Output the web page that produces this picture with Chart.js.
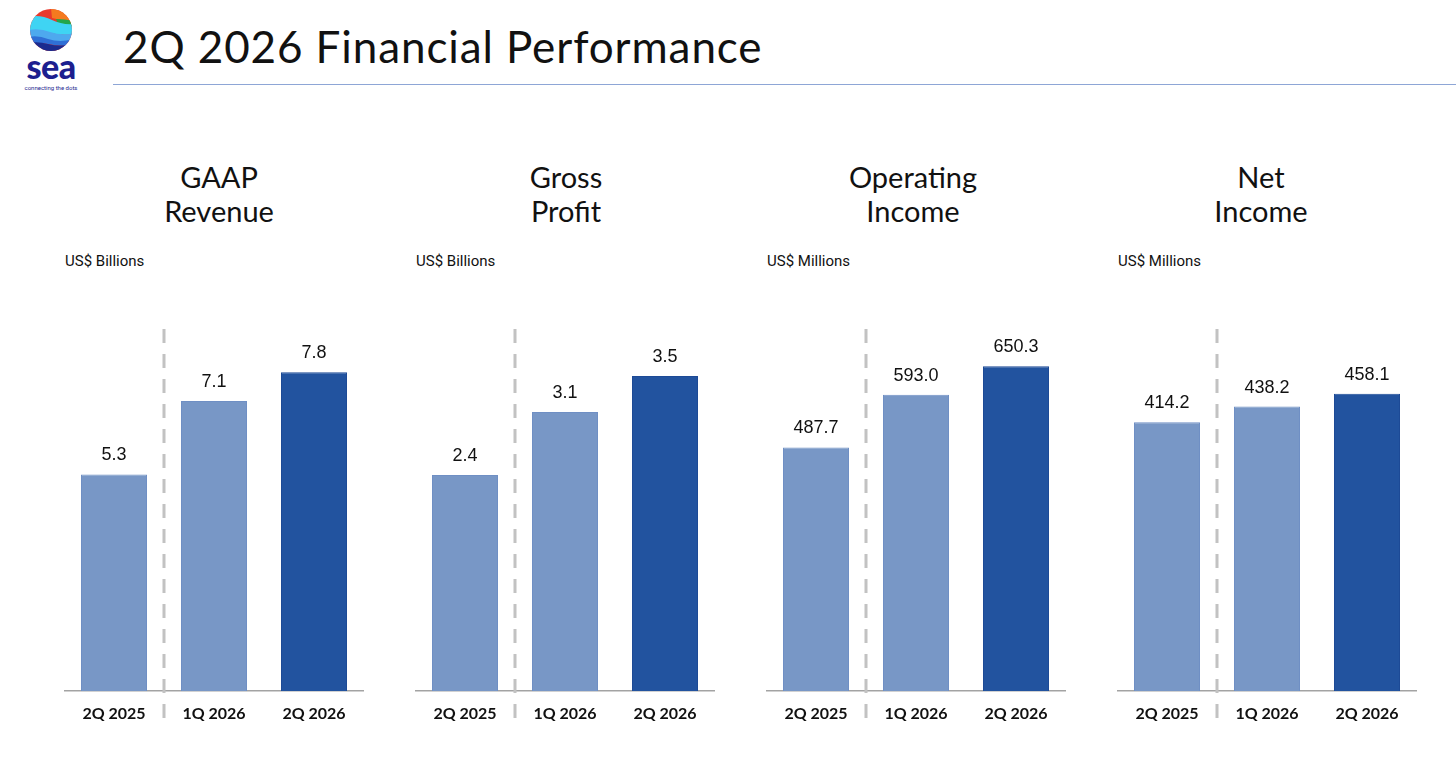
<!DOCTYPE html>
<html>
<head>
<meta charset="utf-8">
<script src="https://cdn.jsdelivr.net/npm/chart.js@4.4.1/dist/chart.umd.min.js"></script>
<style>
  html, body { margin: 0; padding: 0; background: #ffffff; }
  body { width: 1456px; height: 769px; position: relative; overflow: hidden; font-family: "Lato", "Open Sans", sans-serif; color: #111; }
  .title { position: absolute; left: 123px; top: 21px; font-size: 44px; line-height: 50px; letter-spacing: 0.9px; font-family: "Lato", sans-serif; color: #111; white-space: nowrap; }
  .rule { position: absolute; left: 113px; top: 84px; width: 1343px; height: 0; border-top: 1.5px solid #8ea6d6; }
  .ptitle { position: absolute; width: 300px; text-align: center; font-size: 29px; line-height: 34px; top: 160px; color: #111; }
  .unit { position: absolute; font-size: 15px; line-height: 16px; top: 253px; color: #111; font-family: "Roboto", sans-serif; }
  .cw { position: absolute; top: 300px; width: 300px; height: 430px; }
  .logo-sea { position: absolute; left: 18px; top: 49px; width: 66px; text-align: center; font-size: 34px; line-height: 34px; font-weight: 900; color: #1c1f8f; font-family: "Lato", sans-serif; letter-spacing: -0.5px; }
  .logo-tag { position: absolute; left: 10px; top: 84px; width: 82px; text-align: center; font-size: 6px; line-height: 7px; color: #1c1f8f; font-family: "Roboto", sans-serif; }
</style>
</head>
<body>
<svg style="position:absolute;left:0;top:0" width="110" height="60" viewBox="0 0 110 60">
  <defs><clipPath id="c"><circle cx="51" cy="30" r="21"/></clipPath></defs>
  <g clip-path="url(#c)">
    <rect x="28" y="7" width="46" height="46" fill="#e8392c"/>
    <path d="M51 8 Q62 10 74 16 L74 24 Q62 20 52 18 Z" fill="#f47a1f"/>
    <path d="M56 19 Q66 19 74 21 L74 27 Q66 25 58 24 Z" fill="#23a64a"/>
    <path d="M28 17 Q40 14 52 20 Q62 25 74 24 L74 34 Q62 36 50 33 Q40 30 28 31 Z" fill="#3fd4f3"/>
    <path d="M28 30 Q40 28 50 32 Q62 36 74 33 L74 40 Q60 43 48 40 Q38 37 28 38 Z" fill="#4ea9ee"/>
    <path d="M28 37 Q38 35 48 39 Q60 43 74 39 L74 45 Q60 47 48 44 Q38 42 28 44 Z" fill="#2f6fd6"/>
    <path d="M28 43 Q38 41 48 44 Q60 47 74 44 L74 53 L28 53 Z" fill="#1b2b8f"/>
  </g>
</svg>
<div class="logo-sea">sea</div>
<div class="logo-tag">connecting the dots</div>
<div class="title">2Q 2026 Financial Performance</div>
<div class="rule"></div>

<div class="ptitle" style="left:69px">GAAP<br>Revenue</div>
<div class="ptitle" style="left:416px">Gross<br>Profit</div>
<div class="ptitle" style="left:763px">Operating<br>Income</div>
<div class="ptitle" style="left:1111px">Net<br>Income</div>

<div class="unit" style="left:65px">US$ Billions</div>
<div class="unit" style="left:416px">US$ Billions</div>
<div class="unit" style="left:767px">US$ Millions</div>
<div class="unit" style="left:1118px">US$ Millions</div>

<div class="cw" style="left:64px"><canvas id="c1"></canvas></div>
<div class="cw" style="left:415px"><canvas id="c2"></canvas></div>
<div class="cw" style="left:766px"><canvas id="c3"></canvas></div>
<div class="cw" style="left:1117px"><canvas id="c4"></canvas></div>

<script>
// ---- data ----
const categories = ["2Q 2025", "1Q 2026", "2Q 2026"];
const gaapRevenue = [5.3, 7.1, 7.8];           // US$ billions
const grossProfit = [2.4, 3.1, 3.5];           // US$ billions
const operatingIncome = [487.7, 593.0, 650.3]; // US$ millions
const netIncome = [414.2, 438.2, 458.1];       // US$ millions
const axisMax = [9.57, 4.344, 782.8, 602.5];   // per-panel y-axis ranges

const lightBlue = "#7897c6";
const darkBlue = "#22539f";

const valueLabels = {
  id: "valueLabels",
  afterDatasetsDraw(chart) {
    const ctx = chart.ctx;
    const meta = chart.getDatasetMeta(0);
    const ds = chart.data.datasets[0];
    ctx.save();
    ctx.font = '18px "Liberation Sans", Arial, sans-serif';
    ctx.fillStyle = "#111";
    ctx.textAlign = "center";
    ctx.textBaseline = "bottom";
    meta.data.forEach((bar, i) => {
      ctx.fillText(ds.data[i].toFixed(1), bar.x, bar.y - 10);
    });
    ctx.restore();
  }
};

const divider = {
  id: "divider",
  beforeDatasetsDraw(chart) {
    const ctx = chart.ctx;
    const xs = chart.scales.x;
    const x = (xs.getPixelForValue(0) + xs.getPixelForValue(1)) / 2;
    const top = chart.chartArea.top + 29;
    const bottom = chart.chartArea.bottom + 34;
    ctx.save();
    ctx.strokeStyle = "#c2c2c2";
    ctx.lineWidth = 3;
    ctx.setLineDash([14, 11]);
    ctx.beginPath();
    ctx.moveTo(x, top);
    ctx.lineTo(x, bottom);
    ctx.stroke();
    ctx.restore();
  }
};

function makeChart(id, values, ymax) {
  new Chart(document.getElementById(id), {
    type: "bar",
    data: {
      labels: categories,
      datasets: [{
        data: values,
        backgroundColor: [lightBlue, lightBlue, darkBlue],
        borderColor: ["#6f8fc4", "#6f8fc4", "#1d4a96"],
        borderWidth: 1,
        barPercentage: 0.66,
        categoryPercentage: 1.0
      }]
    },
    options: {
      responsive: true,
      maintainAspectRatio: false,
      animation: false,
      events: [],
      layout: { padding: 0 },
      plugins: { legend: { display: false }, tooltip: { enabled: false }, title: { display: false } },
      scales: {
        x: {
          grid: { display: false, drawTicks: false },
          border: { display: true, color: "#a3a3a3", width: 1.5 },
          ticks: {
            padding: 13,
            color: "#111",
            font: { family: "Lato", size: 16, weight: "bold" }
          },
          afterFit(scale) { scale.height = 39; }
        },
        y: {
          display: false,
          min: 0,
          max: ymax
        }
      }
    },
    plugins: [divider, valueLabels]
  });
}

makeChart("c1", gaapRevenue, axisMax[0]);
makeChart("c2", grossProfit, axisMax[1]);
makeChart("c3", operatingIncome, axisMax[2]);
makeChart("c4", netIncome, axisMax[3]);
</script>
</body>
</html>
